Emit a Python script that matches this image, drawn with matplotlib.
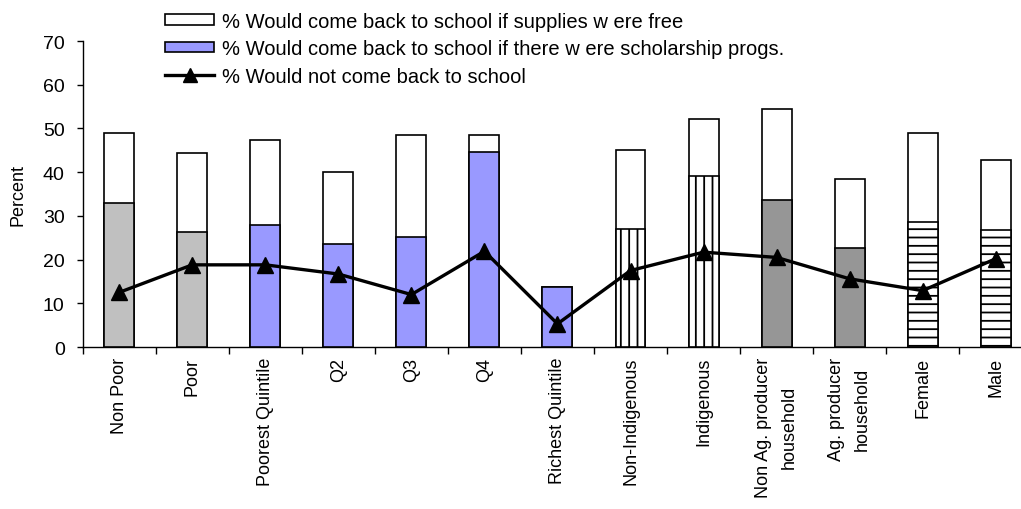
import matplotlib
matplotlib.use("Agg")
import matplotlib.pyplot as plt
from matplotlib.patches import Patch
from matplotlib.lines import Line2D

plt.rcParams["font.family"] = ["Liberation Sans", "DejaVu Sans"]
plt.rcParams["hatch.linewidth"] = 1.3

categories = [
    "Non Poor", "Poor", "Poorest Quintile", "Q2", "Q3", "Q4",
    "Richest Quintile", "Non-Indigenous", "Indigenous",
    "Non Ag. producer\nhousehold", "Ag. producer\nhousehold",
    "Female", "Male",
]
# % would come back if there were scholarship programs
scholarship = [32.9, 26.3, 27.8, 23.5, 25.1, 44.7, 13.8, 27.1, 39.2, 33.7, 22.7, 28.7, 26.8]
# % would come back if supplies were free (top of the white bar)
supplies = [48.9, 44.3, 47.4, 40.0, 48.6, 48.6, 13.8, 45.0, 52.1, 54.5, 38.4, 49.0, 42.7]
# % would not come back to school
not_back = [12.5, 18.8, 18.8, 16.7, 12.0, 21.9, 5.3, 17.5, 21.7, 20.5, 15.6, 12.9, 20.2]

inner_colors = ["#C0C0C0", "#C0C0C0", "#9999FF", "#9999FF", "#9999FF", "#9999FF",
                "#9999FF", "white", "white", "#969696", "#969696", "white", "white"]
inner_hatches = [None] * 7 + ["||", "||", None, None, "--", "--"]

fig = plt.figure(figsize=(10.21, 5.10), dpi=100)
ax = fig.add_axes([0.081, 0.3176, 0.93, 0.60])

x = list(range(len(categories)))
w = 0.41
ax.bar(x, supplies, width=w, color="white", edgecolor="black", linewidth=1.2, zorder=2)
for xi, v, c, h in zip(x, scholarship, inner_colors, inner_hatches):
    ax.bar(xi, v, width=w, color=c, edgecolor="black", linewidth=1.2,
           hatch=h, zorder=3)
ax.plot(x, not_back, color="black", linewidth=2.4, marker="^", markersize=11.5,
        zorder=4)

ax.set_xlim(-0.5, len(categories) - 0.5)
ax.set_ylim(0, 70)
ax.set_yticks(range(0, 71, 10))
ax.set_xticks([i - 0.5 for i in range(len(categories) + 1)])
ax.set_xticklabels([])
ax.set_xticks(x, minor=True)
ax.set_xticklabels(categories, minor=True, rotation=90, fontsize=13,
                   va="top", ha="center", multialignment="center",
                   linespacing=1.65)
ax.tick_params(axis="x", which="minor", length=0, pad=7)
ax.tick_params(axis="x", which="major", length=5, width=1, direction="out")
ax.tick_params(axis="y", length=4, width=1, labelsize=14, pad=9)
for s in ("top", "right"):
    ax.spines[s].set_visible(False)
ax.spines["left"].set_linewidth(1)
ax.spines["bottom"].set_linewidth(1)
ax.set_ylabel("Percent", fontsize=13, labelpad=12)

handles = [
    Patch(facecolor="white", edgecolor="black", linewidth=1.2),
    Patch(facecolor="#9999FF", edgecolor="black", linewidth=1.2),
    Line2D([], [], color="black", linewidth=2.4, marker="^", markersize=9.5),
]
labels = [
    "% Would come back to school if supplies w ere free",
    "% Would come back to school if there w ere scholarship progs.",
    "% Would not come back to school",
]
fig.legend(handles, labels, loc="upper left", bbox_to_anchor=(0.1616, 0.975),
           frameon=False, fontsize=14.5, handlelength=2.45, handleheight=0.45,
           handletextpad=0.4, labelspacing=0.42, borderaxespad=0, borderpad=0)

fig.savefig("out.png", dpi=100)
